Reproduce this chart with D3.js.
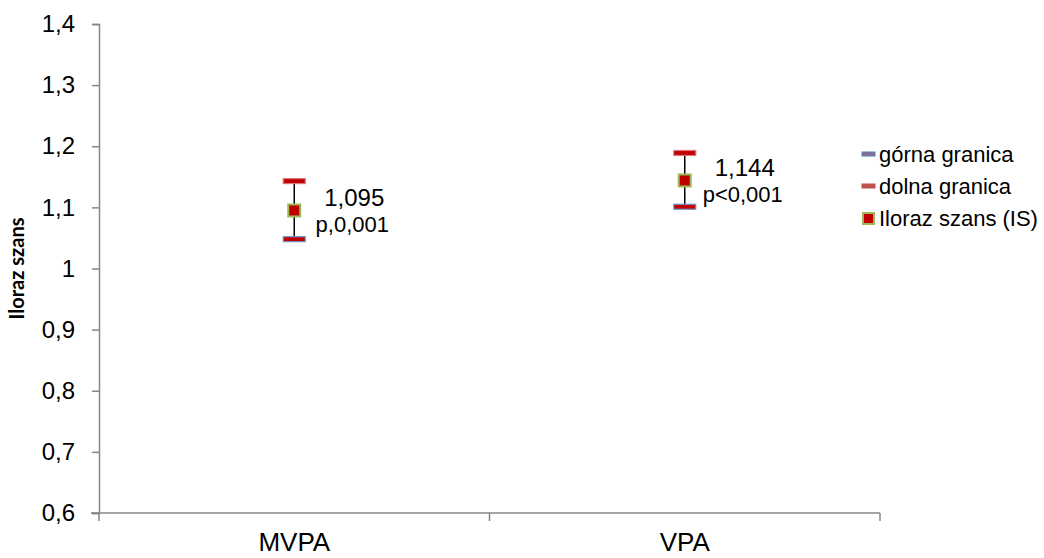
<!DOCTYPE html>
<html>
<head>
<meta charset="utf-8">
<script src="https://cdn.jsdelivr.net/npm/d3@7"></script>
<style>
  body { margin: 0; background: #fff; }
  text { font-family: "Liberation Sans", Arial, sans-serif; }
</style>
</head>
<body>
<div id="chart"></div>
<script>
var categories = ["MVPA", "VPA"];
var upperBound = [1.143, 1.189];   // drawn with the red dash
var lowerBound = [1.048, 1.101];   // drawn with the blue dash
var oddsRatio = [1.095, 1.144];
var valueLabels = ["1,095", "1,144"];
var pLabels = ["p,0,001", "p<0,001"];
var yTicks = [0.6, 0.7, 0.8, 0.9, 1.0, 1.1, 1.2, 1.3, 1.4];
var legendItems = ["górna granica", "dolna granica", "Iloraz szans (IS)"];

var width = 1044, height = 558;
var margin = { top: 24, right: 164, bottom: 45, left: 99 };

var svg = d3.select("#chart")
  .append("svg")
    .attr("width", width)
    .attr("height", height);

var x = d3.scaleBand()
    .domain(categories)
    .range([margin.left, width - margin.right]);

var y = d3.scaleLinear()
    .domain([0.6, 1.4])
    .range([height - margin.bottom, margin.top]);

var fmt = function(d) { return d3.format(".1f")(d).replace(".", ",").replace(/,0$/, ""); };

// y axis
var yAxis = svg.append("g")
    .attr("transform", "translate(" + margin.left + ",0)")
    .call(d3.axisLeft(y).tickValues(yTicks).tickFormat(fmt).tickSizeOuter(0).tickSize(7).tickPadding(17));
yAxis.select(".domain").attr("stroke", "#868686").attr("stroke-width", 1.5);
yAxis.selectAll(".tick line").attr("stroke", "#868686").attr("stroke-width", 1.5);
yAxis.selectAll(".tick text")
    .attr("fill", "#000")
    .style("font-size", "24px")
    .style("font-family", "'Liberation Sans', Arial, sans-serif");

// x axis
var xAxis = svg.append("g")
    .attr("transform", "translate(0," + y(0.6) + ")")
    .call(d3.axisBottom(x).tickSize(0).tickSizeOuter(0).tickPadding(20));
xAxis.select(".domain").attr("stroke", "#868686").attr("stroke-width", 1.5)
    .attr("d", "M" + (margin.left - 8) + ",0H" + (width - margin.right));
xAxis.selectAll(".tick text")
    .attr("fill", "#000")
    .style("font-size", "26px")
    .style("font-family", "'Liberation Sans', Arial, sans-serif");
// category boundary ticks
var bounds = [x.range()[0], x.range()[0] + x.bandwidth(), x.range()[1]];
xAxis.selectAll(".bound")
  .data(bounds)
  .enter().append("line")
    .attr("x1", function(d) { return d; })
    .attr("x2", function(d) { return d; })
    .attr("y1", 0)
    .attr("y2", 8)
    .attr("stroke", "#868686")
    .attr("stroke-width", 1.5);

// y title
svg.append("text")
    .attr("transform", "translate(24," + ((margin.top + height - margin.bottom) / 2) + ") rotate(-90)")
    .attr("text-anchor", "middle")
    .style("font-family", "Lato, 'Open Sans', sans-serif")
    .style("font-weight", "bold")
    .style("font-size", "20px")
    .text("Iloraz szans");

var cx = function(i) { return x(categories[i]) + x.bandwidth() / 2; };

var g = svg.append("g");
categories.forEach(function(c, i) {
  g.append("line")
    .attr("x1", cx(i)).attr("x2", cx(i))
    .attr("y1", y(upperBound[i])).attr("y2", y(lowerBound[i]))
    .attr("stroke", "#000").attr("stroke-width", 1.5);

  g.append("rect")
    .attr("x", cx(i) - 11).attr("y", y(upperBound[i]) - 2.5)
    .attr("width", 22).attr("height", 5)
    .attr("fill", "#C00000").attr("stroke", "#D9777A").attr("stroke-width", 1.2);

  g.append("rect")
    .attr("x", cx(i) - 11).attr("y", y(lowerBound[i]) - 2.5)
    .attr("width", 22).attr("height", 5)
    .attr("fill", "#C00000").attr("stroke", "#6F97CC").attr("stroke-width", 1.2);

  g.append("rect")
    .attr("x", cx(i) - 6).attr("y", y(oddsRatio[i]) - 6)
    .attr("width", 12).attr("height", 12)
    .attr("fill", "#C00000").attr("stroke", "#9BBB59").attr("stroke-width", 2);

  g.append("text")
    .attr("x", cx(i) + 60).attr("y", y(oddsRatio[i]) - 4)
    .attr("text-anchor", "middle")
    .style("font-size", "24px")
    .text(valueLabels[i]);

  g.append("text")
    .attr("x", cx(i) + 58).attr("y", y(oddsRatio[i]) + 22)
    .attr("text-anchor", "middle")
    .style("font-size", "22px")
    .text(pLabels[i]);
});

// legend
var leg = svg.append("g").attr("transform", "translate(862,154)");
legendItems.forEach(function(t, i) {
  var row = leg.append("g").attr("transform", "translate(0," + (i * 32) + ")");
  if (i === 0) {
    row.append("rect").attr("x", 0).attr("y", -2).attr("width", 13).attr("height", 4)
      .attr("fill", "#8E6C8E").attr("stroke", "#4F81BD").attr("stroke-width", 1);
  } else if (i === 1) {
    row.append("rect").attr("x", 0).attr("y", -2).attr("width", 13).attr("height", 4)
      .attr("fill", "#C0504D").attr("stroke", "#C0504D").attr("stroke-width", 1);
  } else {
    row.append("rect").attr("x", 1).attr("y", -5).attr("width", 11).attr("height", 11)
      .attr("fill", "#C00000").attr("stroke", "#9BBB59").attr("stroke-width", 2);
  }
  row.append("text")
    .attr("x", 17).attr("y", 8)
    .style("font-size", "22px")
    .text(t);
});
</script>
</body>
</html>
